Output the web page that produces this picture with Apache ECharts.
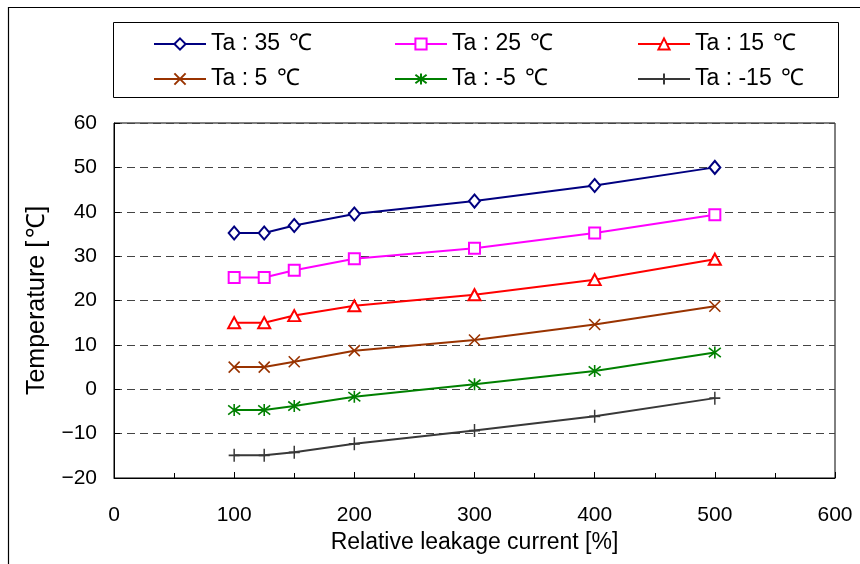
<!DOCTYPE html>
<html>
<head>
<meta charset="utf-8">
<script src="https://cdn.jsdelivr.net/npm/echarts@6/dist/echarts.min.js"></script>
<style>
html,body{margin:0;padding:0;background:#fff;}
#chart{width:860px;height:564px;}
</style>
</head>
<body>
<div id="chart"></div>
<script>
// ---- data ----
var xValues = [100, 125, 150, 200, 300, 400, 500];
var seriesNames = ['Ta : 35 ℃', 'Ta : 25 ℃', 'Ta : 15 ℃', 'Ta : 5 ℃', 'Ta : -5 ℃', 'Ta : -15 ℃'];
var ta35 = [35.2, 35.2, 36.9, 39.5, 42.4, 45.9, 50.0];
var ta25 = [25.2, 25.2, 26.8, 29.4, 31.8, 35.2, 39.3];
var ta15 = [15.0, 15.0, 16.6, 18.8, 21.3, 24.7, 29.3];
var ta5 = [5.0, 5.0, 6.2, 8.7, 11.1, 14.6, 18.7];
var taM5 = [-4.7, -4.7, -3.8, -1.7, 1.1, 4.1, 8.3];
var taM15 = [-14.9, -14.9, -14.2, -12.3, -9.3, -6.1, -2.0];
var xTitle = 'Relative leakage current [%]';
var yTitle = 'Temperature [℃]';

// ---- styles ----
var FONT = "'Liberation Sans', Arial, sans-serif";
var DEGFONT = "'DejaVu Sans', 'Liberation Sans', sans-serif";
var colors = ['#000080', '#FF00FF', '#FF0000', '#993300', '#008000', '#383838'];
var symbols = [
  'emptyDiamond',
  'emptyRect',
  'emptyTriangle',
  'path://M0,0L10,10M10,0L0,10',
  'path://M0,0L10,10M10,0L0,10M5,-1.5L5,11.5',
  'path://M5,0L5,12M0,6L10,6'
];
var symbolSizes = [[11, 13], 11, [12, 11], 11, 12, [11, 13]];
var allData = [ta35, ta25, ta15, ta5, taM5, taM15];

function pairs(vals) {
  return xValues.map(function (x, i) { return [x, vals[i]]; });
}
function splitDeg(s) {
  return s.split('℃').map(function (p) { return p ? '{a|' + p + '}' : ''; }).join('{b|℃}');
}

var series = allData.map(function (vals, i) {
  return {
    name: seriesNames[i],
    type: 'line',
    data: pairs(vals),
    symbol: symbols[i],
    symbolSize: symbolSizes[i],
    showAllSymbol: true,
    lineStyle: { color: colors[i], width: 2 },
    itemStyle: { color: colors[i], borderColor: colors[i], borderWidth: 1.6 },
    emphasis: { disabled: true },
    animation: false,
    z: 10 - i
  };
});

function makeLegend(names, left) {
  return {
    orient: 'vertical',
    left: left,
    top: 32,
    padding: 0,
    itemWidth: 52,
    itemHeight: 14,
    itemGap: 11,
    data: names,
    selectedMode: false,
    formatter: function (n) { return splitDeg(n); },
    textStyle: {
      color: '#000', lineHeight: 24,
      rich: {
        a: { fontFamily: FONT, fontSize: 23, color: '#000', lineHeight: 24 },
        b: { fontFamily: FONT, fontSize: 23, color: '#000', lineHeight: 24, padding: [0, 0, 0, 3] }
      }
    }
  };
}

var chart = echarts.init(document.getElementById('chart'), null, { renderer: 'canvas' });
chart.setOption({
  backgroundColor: '#fff',
  animation: false,
  graphic: [
    { type: 'rect', shape: { x: 8.5, y: 7.5, width: 900, height: 600 }, style: { fill: 'none', stroke: '#000', lineWidth: 1.2 }, silent: true },
    { type: 'rect', shape: { x: 113.5, y: 22.5, width: 725, height: 75 }, style: { fill: 'none', stroke: '#000', lineWidth: 1 }, silent: true }
  ],
  legend: [
    makeLegend([seriesNames[0], seriesNames[3]], 153),
    makeLegend([seriesNames[1], seriesNames[4]], 394),
    makeLegend([seriesNames[2], seriesNames[5]], 637)
  ],
  grid: { left: 114, top: 123, right: 25, bottom: 86, outerBoundsMode: 'none', containLabel: false,
          show: true, borderColor: '#000', borderWidth: 1, backgroundColor: 'transparent' },
  xAxis: {
    type: 'value', min: 0, max: 600, interval: 100,
    name: xTitle, nameLocation: 'middle', nameGap: 52,
    nameTextStyle: { fontFamily: FONT, fontSize: 23, color: '#000' },
    axisLine: { show: true, onZero: false, lineStyle: { color: '#000', width: 1 } },
    axisTick: { show: true, inside: true, length: 6, lineStyle: { color: '#000' } },
    minorTick: { show: true, splitNumber: 2, length: 5, lineStyle: { color: '#000' } },
    axisLabel: { fontFamily: FONT, fontSize: 21, color: '#000', margin: 27 },
    splitLine: { show: false }
  },
  yAxis: {
    type: 'value', min: -20, max: 60, interval: 10,
    name: splitDeg(yTitle), nameLocation: 'middle', nameGap: 64, nameRotate: 90,
    nameTextStyle: {
      rich: {
        a: { fontFamily: FONT, fontSize: 25, color: '#000' },
        b: { fontFamily: FONT, fontSize: 25, color: '#000', padding: [0, 0, 0, 3] }
      }
    },
    axisLine: { show: true, onZero: false, lineStyle: { color: '#000', width: 1 } },
    axisTick: { show: true, inside: true, length: 6, lineStyle: { color: '#000' } },
    axisLabel: {
      fontFamily: FONT, fontSize: 21, color: '#000', margin: 17,
      formatter: function (v) { return v < 0 ? '\u2212' + Math.abs(v) : String(v); }
    },
    splitLine: { show: true, lineStyle: { color: '#444', type: [8, 5], width: 1 } }
  },
  series: series
});
</script>
</body>
</html>
